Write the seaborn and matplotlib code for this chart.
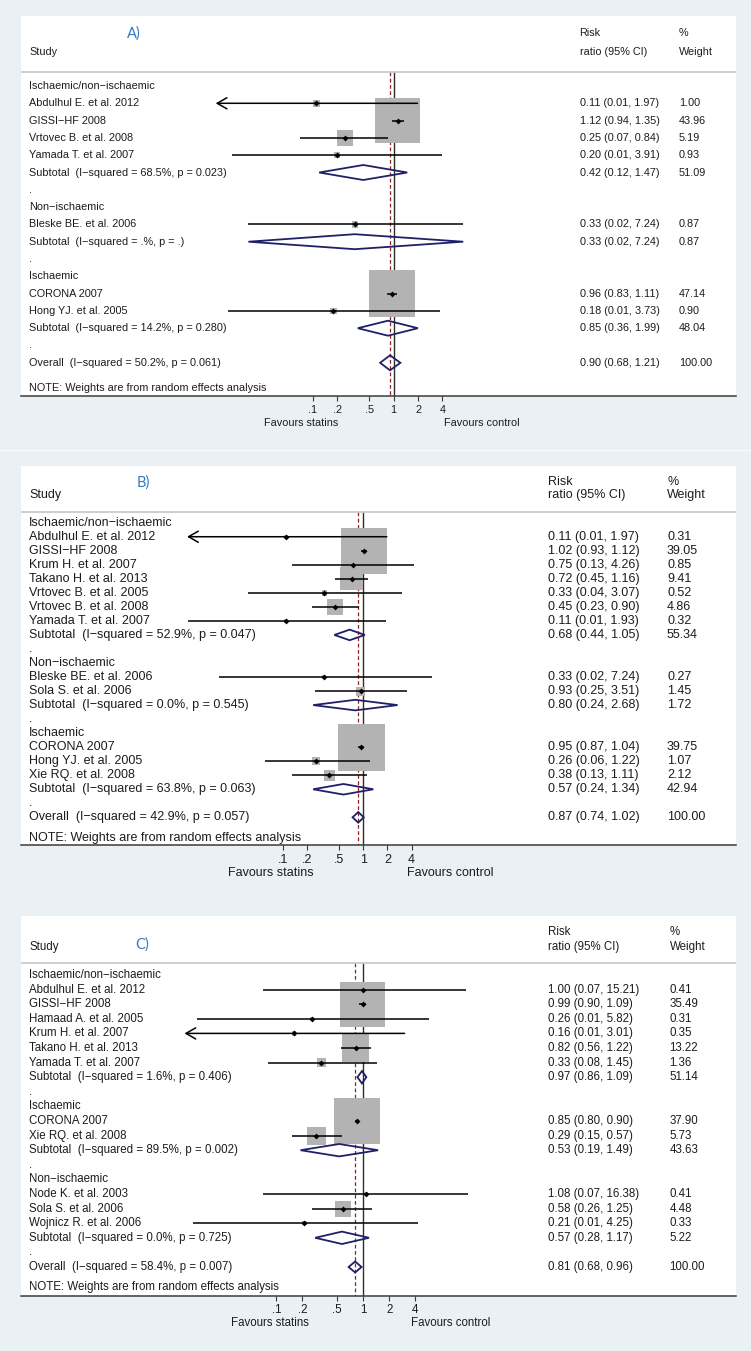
import numpy as np
import pandas as pd
import matplotlib
matplotlib.use("Agg")
import matplotlib.pyplot as plt
import matplotlib.transforms as mtransforms
from matplotlib.patches import Polygon
from matplotlib.lines import Line2D
from matplotlib.ticker import NullLocator
import seaborn as sns

sns.set_style("white")
plt.rcParams["font.family"] = ["Liberation Sans", "DejaVu Sans"]

# ---- panel A ----
A_rows = ["Ischaemic/non\u2212ischaemic", "Abdulhul E. et al. 2012", "GISSI\u2212HF 2008",
          "Vrtovec B. et al. 2008", "Yamada T. et al. 2007",
          "Subtotal  (I\u2212squared = 68.5%, p = 0.023)", ".",
          "Non\u2212ischaemic", "Bleske BE. et al. 2006", "Subtotal  (I\u2212squared = .%, p = .)", ".",
          "Ischaemic", "CORONA 2007", "Hong YJ. et al. 2005",
          "Subtotal  (I\u2212squared = 14.2%, p = 0.280)", ".",
          "Overall  (I\u2212squared = 50.2%, p = 0.061)"]
A_rr = [None, 0.11, 1.12, 0.25, 0.20, 0.42, None, None, 0.33, 0.33, None, None, 0.96, 0.18, 0.85, None, 0.90]
A_lo = [None, 0.006, 0.94, 0.07, 0.01, 0.12, None, None, 0.016, 0.016, None, None, 0.83, 0.009, 0.36, None, 0.68]
A_hi = [None, 1.97, 1.35, 0.84, 3.91, 1.47, None, None, 7.24, 7.24, None, None, 1.11, 3.73, 1.99, None, 1.21]
A_wt = [None, 1.00, 43.96, 5.19, 0.93, 51.09, None, None, 0.87, 0.87, None, None, 47.14, 0.90, 48.04, None, 100.00]

# ---- panel B ----
B_rows = ["Ischaemic/non\u2212ischaemic", "Abdulhul E. et al. 2012", "GISSI\u2212HF 2008",
          "Krum H. et al. 2007", "Takano H. et al. 2013", "Vrtovec B. et al. 2005",
          "Vrtovec B. et al. 2008", "Yamada T. et al. 2007",
          "Subtotal  (I\u2212squared = 52.9%, p = 0.047)", ".",
          "Non\u2212ischaemic", "Bleske BE. et al. 2006", "Sola S. et al. 2006",
          "Subtotal  (I\u2212squared = 0.0%, p = 0.545)", ".",
          "Ischaemic", "CORONA 2007", "Hong YJ. et al. 2005", "Xie RQ. et al. 2008",
          "Subtotal  (I\u2212squared = 63.8%, p = 0.063)", ".",
          "Overall  (I\u2212squared = 42.9%, p = 0.057)"]
B_rr = [None, 0.11, 1.02, 0.75, 0.72, 0.33, 0.45, 0.11, 0.68, None, None, 0.33, 0.93, 0.80, None,
        None, 0.95, 0.26, 0.38, 0.57, None, 0.87]
B_lo = [None, 0.006, 0.93, 0.13, 0.45, 0.037, 0.23, 0.0066, 0.44, None, None, 0.016, 0.25, 0.24, None,
        None, 0.87, 0.06, 0.13, 0.24, None, 0.74]
B_hi = [None, 1.97, 1.12, 4.26, 1.16, 3.07, 0.90, 1.93, 1.05, None, None, 7.24, 3.51, 2.68, None,
        None, 1.04, 1.22, 1.11, 1.34, None, 1.02]
B_wt = [None, 0.31, 39.05, 0.85, 9.41, 0.52, 4.86, 0.32, 55.34, None, None, 0.27, 1.45, 1.72, None,
        None, 39.75, 1.07, 2.12, 42.94, None, 100.00]

# ---- panel C ----
C_rows = ["Ischaemic/non\u2212ischaemic", "Abdulhul E. et al. 2012", "GISSI\u2212HF 2008",
          "Hamaad A. et al. 2005", "Krum H. et al. 2007", "Takano H. et al. 2013",
          "Yamada T. et al. 2007", "Subtotal  (I\u2212squared = 1.6%, p = 0.406)", ".",
          "Ischaemic", "CORONA 2007", "Xie RQ. et al. 2008",
          "Subtotal  (I\u2212squared = 89.5%, p = 0.002)", ".",
          "Non\u2212ischaemic", "Node K. et al. 2003", "Sola S. et al. 2006", "Wojnicz R. et al. 2006",
          "Subtotal  (I\u2212squared = 0.0%, p = 0.725)", ".",
          "Overall  (I\u2212squared = 58.4%, p = 0.007)"]
C_rr = [None, 1.00, 0.99, 0.26, 0.16, 0.82, 0.33, 0.97, None, None, 0.85, 0.29, 0.53, None,
        None, 1.08, 0.58, 0.21, 0.57, None, 0.81]
C_lo = [None, 0.07, 0.90, 0.012, 0.006, 0.56, 0.08, 0.86, None, None, 0.80, 0.15, 0.19, None,
        None, 0.07, 0.26, 0.011, 0.28, None, 0.68]
C_hi = [None, 15.21, 1.09, 5.82, 3.01, 1.22, 1.45, 1.09, None, None, 0.90, 0.57, 1.49, None,
        None, 16.38, 1.25, 4.25, 1.17, None, 0.96]
C_wt = [None, 0.41, 35.49, 0.31, 0.35, 13.22, 1.36, 51.14, None, None, 37.90, 5.73, 43.63, None,
        None, 0.41, 4.48, 0.33, 5.22, None, 100.00]

tick_vals = [0.1, 0.2, 0.5, 1, 2, 4]
tick_labels = [".1", ".2", ".5", "1", "2", "4"]

W, H = 751, 1351
BG = "#e9f1f4"
NAVY = "#1e2068"
BOX = "#b3b3b3"
TXT = "#1c1c1c"

fig = plt.figure(figsize=(W / 100, H / 100), dpi=100, facecolor=BG)


def kind_of(label, rr):
    if label.startswith("Subtotal"):
        return "sub"
    if label.startswith("Overall"):
        return "overall"
    if label == ".":
        return "blank"
    if rr is None:
        return "group"
    return "study"


def draw_panel(rows, rr, lo, hi, wt, tag, g):
    left, right = 20.6, 736.0
    ax = fig.add_axes([left / W, 1 - g["bot"] / H, (right - left) / W, (g["bot"] - g["top"]) / H])
    ax.set_facecolor("white")
    ax.set_xscale("log")
    ax.set_xlim(10 ** ((left - g["x1"]) / g["k"]), 10 ** ((right - g["x1"]) / g["k"]))

    def to_row(ypx):
        return (ypx - g["row0"]) / g["dy"]

    def fx(xpx):
        return (xpx - left) / (right - left)

    ax.set_ylim(to_row(g["bot"]), to_row(g["top"]))
    tr = mtransforms.blended_transform_factory(ax.transAxes, ax.transData)
    fs = g["fs"]

    df = pd.DataFrame({"label": rows, "rr": rr, "lo": lo, "hi": hi, "wt": wt})
    df["row"] = np.arange(len(df))
    df["kind"] = [kind_of(l, r) for l, r in zip(rows, rr)]

    # header
    ax.text(fx(29), to_row(g["hdr2"]), "Study", transform=tr, fontsize=fs, va="center", color=TXT)
    ax.text(fx(g["est_x"]), to_row(g["hdr1"]), "Risk", transform=tr, fontsize=fs, va="center", color=TXT)
    ax.text(fx(g["est_x"]), to_row(g["hdr2"]), "ratio (95% CI)", transform=tr, fontsize=fs, va="center", color=TXT)
    ax.text(fx(g["wt_x"]), to_row(g["hdr1"]), "%", transform=tr, fontsize=fs, va="center", color=TXT)
    ax.text(fx(g["wt_x"]), to_row(g["hdr2"]), "Weight", transform=tr, fontsize=fs, va="center", color=TXT)
    ax.text(fx(g["tag_x"]), to_row(g["tag_y"]), tag, transform=tr, fontsize=10.5, va="center", ha="center",
            color="#2f7bc2", family=["Lato", "DejaVu Sans"])
    ax.axhline(to_row(g["hline"]), color="#c6c6c6", lw=1.2)
    ax.text(fx(29), to_row(g["note"]), "NOTE: Weights are from random effects analysis", transform=tr,
            fontsize=fs, va="center", color=TXT)

    # reference lines
    ymin_line, ymax_line = to_row(g["hline"]), to_row(g["bot"])
    overall = df.loc[df["kind"] == "overall", "rr"].iloc[0]
    ax.vlines(1, ymin_line, ymax_line, color="#2e2e2e", lw=1.0, zorder=1)
    ax.vlines(overall, ymin_line, ymax_line, color="#8e2323", lw=0.9, linestyles=(0, (3, 2)), zorder=1)

    # row texts
    for _, r in df.iterrows():
        ax.text(fx(29), r["row"], r["label"], transform=tr, fontsize=fs, va="center", color=TXT)
        if r["kind"] in ("study", "sub", "overall"):
            ax.text(fx(g["est_x"]), r["row"], f"{r['rr']:.2f} ({r['lo']:.2f}, {r['hi']:.2f})",
                    transform=tr, fontsize=fs, va="center", color=TXT)
            ax.text(fx(g["wt_x"]), r["row"], f"{r['wt']:.2f}", transform=tr, fontsize=fs,
                    va="center", color=TXT)

    studies = df[df["kind"] == "study"].astype({"rr": float, "lo": float, "hi": float, "wt": float})
    s100 = (g["box"] * 0.72) ** 2 * 100
    sns.scatterplot(data=studies, x="rr", y="row", size="wt", sizes=(0, s100), size_norm=(0, 100),
                    marker="s", color=BOX, linewidth=0, legend=False, ax=ax, zorder=2)

    xmin = g["xmin"]
    for _, r in studies.iterrows():
        if r["lo"] < xmin:
            ax.annotate("", xy=(xmin, r["row"]), xytext=(r["hi"], r["row"]),
                        arrowprops=dict(arrowstyle="->,head_length=0.7,head_width=0.4", lw=1.1,
                                        color="black", shrinkA=0, shrinkB=0, mutation_scale=10),
                        zorder=3)
        else:
            ax.hlines(r["row"], r["lo"], r["hi"], color="black", lw=1.1, zorder=3)
    sns.scatterplot(data=studies, x="rr", y="row", marker="D", s=9, color="black", linewidth=0,
                    legend=False, ax=ax, zorder=4)

    # pooled diamonds
    for _, r in df[df["kind"].isin(["sub", "overall"])].iterrows():
        h = (g["dia_o"] if r["kind"] == "overall" else g["dia"]) / g["dy"]
        y = r["row"]
        ax.add_patch(Polygon([(r["lo"], y), (r["rr"], y - h), (r["hi"], y), (r["rr"], y + h)],
                             closed=True, fill=False, ec=NAVY, lw=1.3, zorder=4))

    # axis
    ax.set_xticks(tick_vals)
    ax.set_xticklabels(tick_labels)
    ax.xaxis.set_minor_locator(NullLocator())
    ax.set_yticks([])
    ax.set_xlabel("")
    ax.set_ylabel("")
    for s in ("top", "left", "right"):
        ax.spines[s].set_visible(False)
    ax.spines["bottom"].set_color("#3a3a3a")
    ax.spines["bottom"].set_linewidth(1.1)
    ax.tick_params(axis="x", direction="out", length=3.8, width=0.8, pad=2.5, labelsize=fs,
                   colors="#3a3a3a", labelcolor=TXT, bottom=True)

    fig.text(g["fav_l"] / W, 1 - g["fav_y"] / H, "Favours statins", ha="center", va="center",
             fontsize=fs, color=TXT)
    fig.text(g["fav_r"] / W, 1 - g["fav_y"] / H, "Favours control", ha="center", va="center",
             fontsize=fs, color=TXT)
    return ax


geo_A = dict(top=16, bot=396, row0=86, dy=17.3, x1=393.7, k=80.9, xmin=0.0063, hdr1=33, hdr2=52,
             hline=72, note=388, est_x=579.6, wt_x=679, tag_x=134, tag_y=34, fs=7.8, box=6.75,
             fav_y=422.7, fav_l=301.5, fav_r=481.6, dia=7.5, dia_o=7.5)
geo_B = dict(top=466, bot=845, row0=522.7, dy=14.03, x1=363.1, k=80.5, xmin=0.0065, hdr1=481.7, hdr2=495,
             hline=511.7, note=838.3, est_x=548, wt_x=667, tag_x=143, tag_y=483, fs=9.0, box=7.4,
             fav_y=872.7, fav_l=271, fav_r=450.6, dia=5.3, dia_o=5.3)
geo_C = dict(top=916, bot=1295.7, row0=975, dy=14.6, x1=363.1, k=86.7, xmin=0.0087, hdr1=931.7, hdr2=946.7,
             hline=963.3, note=1287.3, est_x=548, wt_x=669.6, tag_x=142.5, tag_y=945, fs=8.3, box=7.6,
             fav_y=1322.7, fav_l=270, fav_r=450.5, dia=6.2, dia_o=5.5)

draw_panel(A_rows, A_rr, A_lo, A_hi, A_wt, "A)", geo_A)
draw_panel(B_rows, B_rr, B_lo, B_hi, B_wt, "B)", geo_B)
draw_panel(C_rows, C_rr, C_lo, C_hi, C_wt, "C)", geo_C)

fig.add_artist(Line2D([0, 1], [1 - 450 / H, 1 - 450 / H], color="#f8fbfc", lw=1.0))

fig.savefig("out.png", dpi=100, facecolor=BG)
